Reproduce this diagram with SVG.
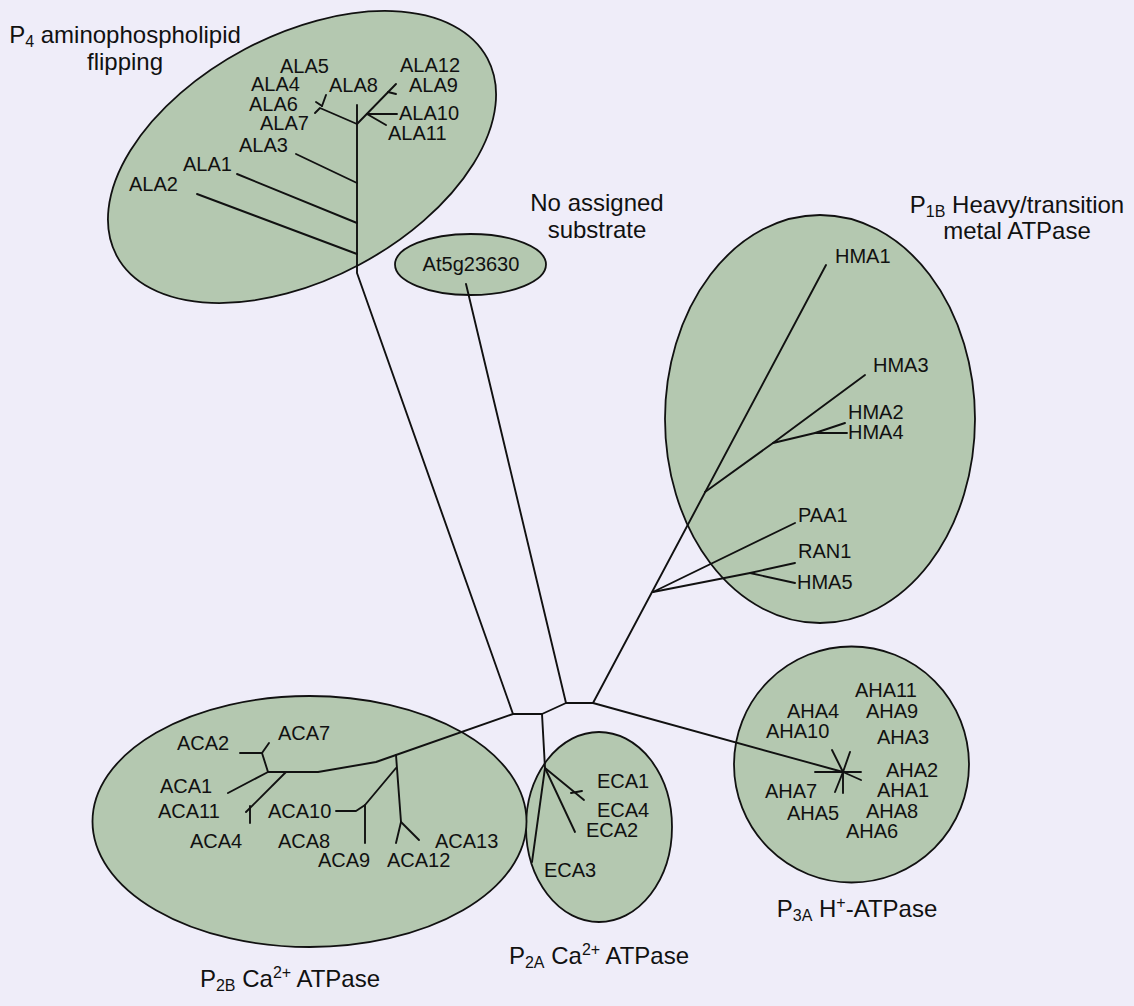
<svg xmlns="http://www.w3.org/2000/svg" width="1134" height="1006" viewBox="0 0 1134 1006">
<style>
.bg{fill:#efedf9}
.cl{fill:#b4c8b0;stroke:#111;stroke-width:1.8}
.br{fill:none;stroke:#111;stroke-width:1.9;stroke-linecap:round;stroke-linejoin:round}
.lb{font-family:"Liberation Sans",Arial,sans-serif;font-size:20px;fill:#111}
.tt{font-family:"Liberation Sans",Arial,sans-serif;font-size:24px;fill:#111;text-anchor:middle}
</style>
<rect class="bg" x="0" y="0" width="1134" height="1006"/>

<g id="clade-P4">
<ellipse class="cl" cx="302" cy="157" rx="210" ry="122" transform="rotate(-28 302 157)"/>
<text class="tt" x="125" y="43">P<tspan font-size="16" dy="4">4</tspan><tspan dy="-4"> aminophospholipid</tspan></text>
<text class="tt" x="125" y="70">flipping</text>
<text class="lb" x="280" y="73">ALA5</text>
<text class="lb" x="251" y="91">ALA4</text>
<text class="lb" x="329" y="92">ALA8</text>
<text class="lb" x="249" y="111">ALA6</text>
<text class="lb" x="260" y="130">ALA7</text>
<text class="lb" x="239" y="152">ALA3</text>
<text class="lb" x="183" y="171">ALA1</text>
<text class="lb" x="129" y="191">ALA2</text>
<text class="lb" x="400" y="72">ALA12</text>
<text class="lb" x="409" y="92">ALA9</text>
<text class="lb" x="399" y="120">ALA10</text>
<text class="lb" x="388" y="140">ALA11</text>
</g>

<g id="clade-none">
<ellipse class="cl" cx="470.5" cy="264.5" rx="75.5" ry="30.5"/>
<text class="lb" x="471" y="271" font-size="21" text-anchor="middle">At5g23630</text>
<text class="tt" x="597" y="211">No assigned</text>
<text class="tt" x="597" y="238">substrate</text>
</g>

<g id="clade-P1B">
<ellipse class="cl" cx="820" cy="419" rx="155" ry="204"/>
<text class="tt" x="1017" y="213">P<tspan font-size="16" dy="4">1B</tspan><tspan dy="-4"> Heavy/transition</tspan></text>
<text class="tt" x="1017" y="239">metal ATPase</text>
<text class="lb" x="835" y="263">HMA1</text>
<text class="lb" x="873" y="372">HMA3</text>
<text class="lb" x="848" y="419">HMA2</text>
<text class="lb" x="848" y="439">HMA4</text>
<text class="lb" x="798" y="522">PAA1</text>
<text class="lb" x="798" y="558">RAN1</text>
<text class="lb" x="797" y="589">HMA5</text>
</g>

<g id="clade-P3A">
<ellipse class="cl" cx="851.5" cy="764.5" rx="117.5" ry="118"/>
<text class="tt" x="857" y="917">P<tspan font-size="16" dy="4">3A</tspan><tspan dy="-4"> H</tspan><tspan font-size="16" dy="-9">+</tspan><tspan dy="9">-ATPase</tspan></text>
<text class="lb" x="855" y="697">AHA11</text>
<text class="lb" x="787" y="718">AHA4</text>
<text class="lb" x="866" y="718">AHA9</text>
<text class="lb" x="766" y="738">AHA10</text>
<text class="lb" x="877" y="744">AHA3</text>
<text class="lb" x="886" y="777">AHA2</text>
<text class="lb" x="765" y="798">AHA7</text>
<text class="lb" x="877" y="797">AHA1</text>
<text class="lb" x="787" y="820">AHA5</text>
<text class="lb" x="866" y="818">AHA8</text>
<text class="lb" x="846" y="838">AHA6</text>
</g>

<g id="clade-P2A">
<ellipse class="cl" cx="599" cy="827" rx="73" ry="95"/>
<text class="tt" x="599" y="964">P<tspan font-size="16" dy="4">2A</tspan><tspan dy="-4"> Ca</tspan><tspan font-size="16" dy="-9">2+</tspan><tspan dy="9"> ATPase</tspan></text>
<text class="lb" x="597" y="788">ECA1</text>
<text class="lb" x="597" y="817">ECA4</text>
<text class="lb" x="586" y="837">ECA2</text>
<text class="lb" x="544" y="877">ECA3</text>
</g>

<g id="clade-P2B">
<ellipse class="cl" cx="309.5" cy="821.5" rx="217" ry="125.5"/>
<text class="tt" x="290" y="987">P<tspan font-size="16" dy="4">2B</tspan><tspan dy="-4"> Ca</tspan><tspan font-size="16" dy="-9">2+</tspan><tspan dy="9"> ATPase</tspan></text>
<text class="lb" x="177" y="750">ACA2</text>
<text class="lb" x="278" y="740">ACA7</text>
<text class="lb" x="160" y="793">ACA1</text>
<text class="lb" x="158" y="818">ACA11</text>
<text class="lb" x="268" y="818">ACA10</text>
<text class="lb" x="190" y="848">ACA4</text>
<text class="lb" x="278" y="848">ACA8</text>
<text class="lb" x="435" y="848">ACA13</text>
<text class="lb" x="318" y="867">ACA9</text>
<text class="lb" x="387" y="867">ACA12</text>
</g>

<g id="connectors">
<path class="br" d="M513,714 L542,714 L566,703 L593,703"/>
<path class="br" d="M513,714 L357,273 L357,105"/>
<path class="br" d="M197,194 L357,254"/>
<path class="br" d="M237,174 L357,223"/>
<path class="br" d="M296,154 L357,183"/>
<path class="br" d="M357,124 L320,108 L315,113"/>
<path class="br" d="M322,106 L326,95"/>
<path class="br" d="M322,106 L316,102"/>
<path class="br" d="M357,124 L396,84"/>
<path class="br" d="M388,92 L396,94"/>
<path class="br" d="M367,114 L397,114"/>
<path class="br" d="M367,114 L386,125"/>
<path class="br" d="M466,284 L566,703"/>
<path class="br" d="M593,703 L826,265"/>
<path class="br" d="M705,492 L773,443 L865,375"/>
<path class="br" d="M773,443 L815,433 L845,423"/>
<path class="br" d="M815,433 L847,433"/>
<path class="br" d="M653,592 L795,523"/>
<path class="br" d="M653,592 L750,573 L795,563"/>
<path class="br" d="M750,573 L795,583"/>
<path class="br" d="M593,703 L843,772"/>
<path class="br" d="M815,772 L861,772"/>
<path class="br" d="M832,750 L843,772 L850,752"/>
<path class="br" d="M843,772 L861,780"/>
<path class="br" d="M843,772 L843,793"/>
<path class="br" d="M843,772 L835,792"/>
<path class="br" d="M542,714 L545,768 L532,862"/>
<path class="br" d="M545,768 L584,800"/>
<path class="br" d="M571,793 L582,791"/>
<path class="br" d="M545,768 L575,832"/>
<path class="br" d="M513,714 L376,762 L318,772 L268,772"/>
<path class="br" d="M268,772 L262,753 L240,753"/>
<path class="br" d="M262,753 L269,743"/>
<path class="br" d="M268,772 L228,793"/>
<path class="br" d="M286,772 L246,812"/>
<path class="br" d="M250,806 L250,823"/>
<path class="br" d="M396,755 L401,822 L396,843"/>
<path class="br" d="M401,822 L419,840"/>
<path class="br" d="M396,768 L365,805 L365,843"/>
<path class="br" d="M336,811 L356,811 L365,805"/>
</g>
</svg>
